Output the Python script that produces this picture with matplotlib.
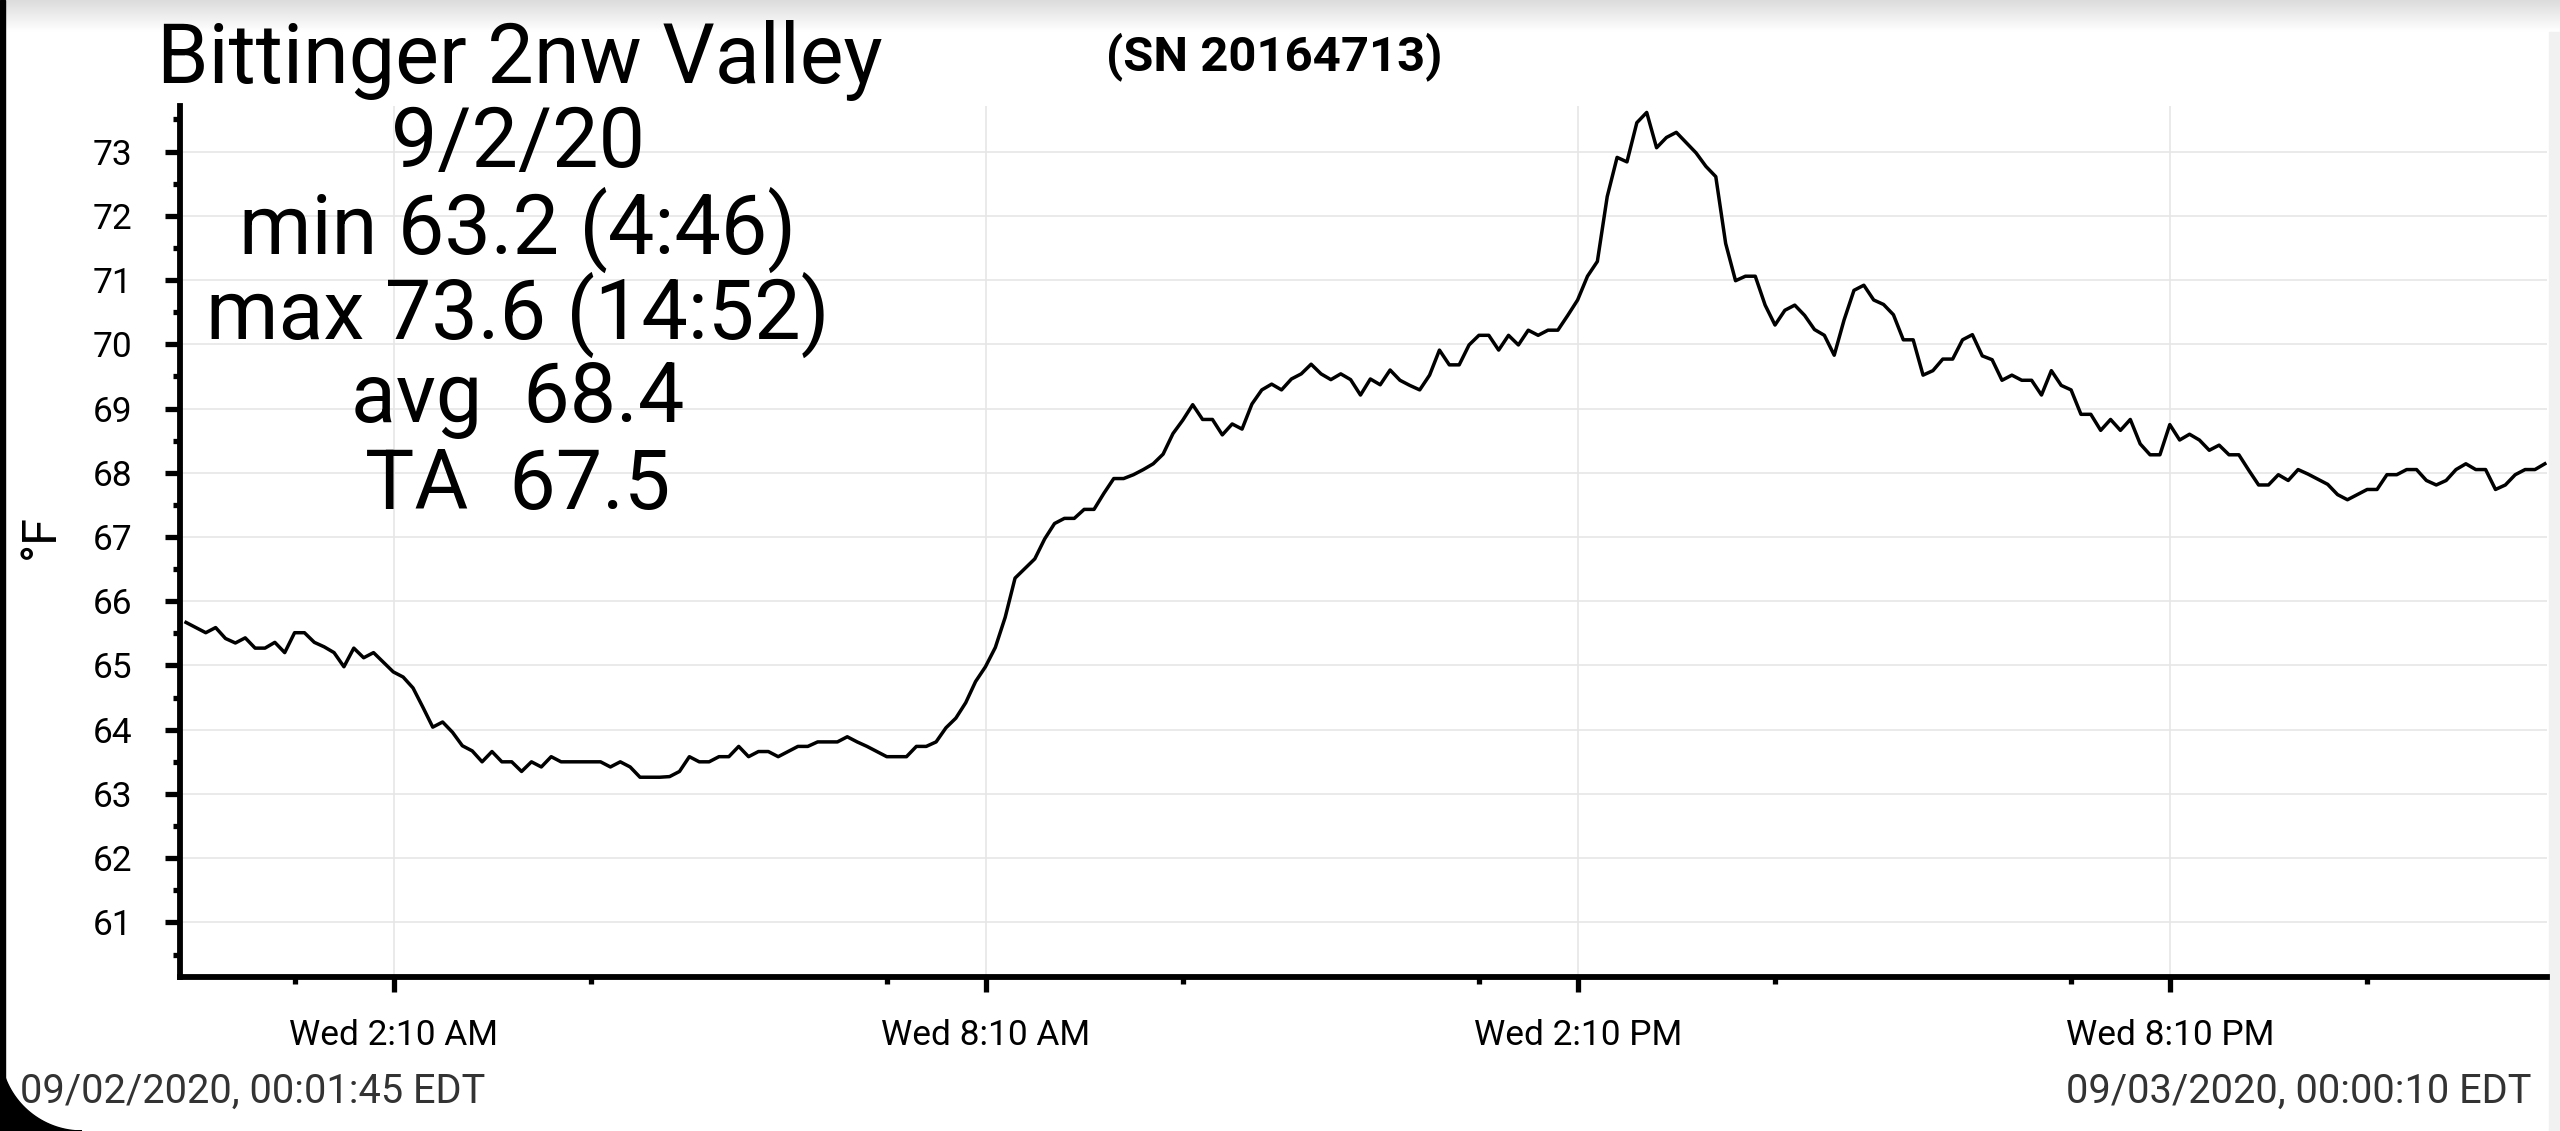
import numpy as np
import matplotlib
matplotlib.use('Agg')
import matplotlib.pyplot as plt
from matplotlib.patches import Rectangle, Polygon
from matplotlib.ticker import FixedLocator, NullFormatter

plt.rcParams['font.family'] = ['Roboto', 'DejaVu Sans']

# logger readings, one every 6 minutes through 9/2/20
temps = [
    65.67, 65.59, 65.51, 65.59, 65.42, 65.35, 65.43, 65.27, 65.27, 65.36,
    65.20, 65.51, 65.51, 65.36, 65.29, 65.20, 64.98, 65.27, 65.12, 65.20,
    65.05, 64.90, 64.82, 64.65, 64.35, 64.04, 64.12, 63.96, 63.75, 63.67,
    63.50, 63.66, 63.50, 63.50, 63.35, 63.50, 63.42, 63.58, 63.50, 63.50,
    63.50, 63.50, 63.50, 63.42, 63.50, 63.42, 63.26, 63.26, 63.26, 63.27,
    63.35, 63.58, 63.50, 63.50, 63.58, 63.58, 63.74, 63.58, 63.66, 63.66,
    63.58, 63.66, 63.74, 63.74, 63.81, 63.81, 63.81, 63.89, 63.81, 63.74,
    63.66, 63.58, 63.58, 63.58, 63.74, 63.74, 63.81, 64.03, 64.18, 64.42,
    64.75, 64.98, 65.28, 65.75, 66.36, 66.51, 66.66, 66.97, 67.21, 67.29,
    67.29, 67.43, 67.43, 67.68, 67.91, 67.91, 67.97, 68.05, 68.14, 68.29,
    68.61, 68.82, 69.06, 68.83, 68.83, 68.59, 68.76, 68.68, 69.07, 69.29,
    69.38, 69.29, 69.46, 69.54, 69.69, 69.54, 69.45, 69.54, 69.45, 69.21,
    69.46, 69.37, 69.60, 69.44, 69.36, 69.29, 69.52, 69.91, 69.68, 69.68,
    69.99, 70.14, 70.14, 69.91, 70.14, 69.99, 70.22, 70.14, 70.22, 70.22,
    70.45, 70.69, 71.06, 71.29, 72.30, 72.91, 72.84, 73.45, 73.61, 73.06,
    73.22, 73.30, 73.14, 72.98, 72.77, 72.61, 71.57, 70.99, 71.06, 71.06,
    70.61, 70.30, 70.53, 70.61, 70.45, 70.23, 70.14, 69.83, 70.38, 70.84,
    70.92, 70.69, 70.62, 70.46, 70.07, 70.07, 69.52, 69.59, 69.77, 69.77,
    70.07, 70.15, 69.82, 69.76, 69.44, 69.52, 69.44, 69.44, 69.21, 69.59,
    69.36, 69.29, 68.91, 68.91, 68.66, 68.83, 68.66, 68.83, 68.45, 68.28,
    68.28, 68.75, 68.51, 68.60, 68.51, 68.35, 68.43, 68.28, 68.28, 68.04,
    67.81, 67.81, 67.97, 67.88, 68.05, 67.98, 67.90, 67.82, 67.66, 67.58,
    67.66, 67.74, 67.74, 67.97, 67.97, 68.05, 68.05, 67.88, 67.81, 67.88,
    68.05, 68.14, 68.05, 68.05, 67.74, 67.81, 67.97, 68.05, 68.05, 68.14,
]
start_hour = 0.064
step_hours = 0.1
hours = [start_hour + i * step_hours for i in range(len(temps))]

major_hours = [2 + 10 / 60, 8 + 10 / 60, 14 + 10 / 60, 20 + 10 / 60]
major_labels = ['Wed 2:10 AM', 'Wed 8:10 AM', 'Wed 2:10 PM', 'Wed 8:10 PM']
minor_hours = [1 + 10 / 60 + 3 * i for i in range(8)]
y_major = list(range(61, 74))
y_minor = [v + 0.5 for v in range(60, 74)]

title = 'Bittinger 2nw Valley'
serial = '(SN 20164713)'
stats = ['9/2/20', 'min 63.2 (4:46)', 'max 73.6 (14:52)', 'avg  68.4', 'TA  67.5']
start_label = '09/02/2020, 00:01:45 EDT'
end_label = '09/03/2020, 00:00:10 EDT'

W, H = 2560, 1131
fig = plt.figure(figsize=(W / 100, H / 100), dpi=100)
fig.patch.set_facecolor('white')

# screenshot frame bits: grey shade on top, black edge left, grey strip right
top = fig.add_axes([0, 1 - 32 / H, 1, 32 / H], zorder=-5)
grad = np.linspace(0.86, 1.0, 64).reshape(-1, 1)
top.imshow(grad, cmap='gray', vmin=0, vmax=1, aspect='auto', extent=[0, 1, 0, 1])
top.axis('off')
fig.patches.append(Rectangle((0, 0), 5 / W, 1, transform=fig.transFigure, color='black', zorder=5))
fig.patches.append(Rectangle((1 - 11 / W, 0), 11 / W, 1 - 32 / H, transform=fig.transFigure,
                             color='#f1f1f1', zorder=-4))
r = 82
theta = np.linspace(np.pi, 1.5 * np.pi, 40)
pts = [(0, 0), (0, r)] + [(r + r * np.cos(t), r + r * np.sin(t)) for t in theta] + [(r, 0)]
fig.patches.append(Polygon([(x / W, y / H) for x, y in pts], closed=True, transform=fig.transFigure,
                           color='black', zorder=5))

ax = fig.add_axes([179.7 / W, 1 - 977 / H, (2547 - 179.7) / W, (977 - 106) / H])
ax.plot(hours, temps, color='black', lw=2.5, zorder=3)
ax.set_xlim(0.0, 23.986)
ax.set_ylim(60.15, 73.71)

ax.xaxis.set_major_locator(FixedLocator(major_hours))
ax.set_xticklabels(major_labels)
ax.xaxis.set_minor_locator(FixedLocator(minor_hours))
ax.yaxis.set_major_locator(FixedLocator(y_major))
ax.yaxis.set_minor_locator(FixedLocator(y_minor))
ax.yaxis.set_minor_formatter(NullFormatter())
ax.set_yticklabels([str(v) for v in y_major])

ax.grid(True, which='major', color='#e6e6e6', lw=1.2, zorder=0)
ax.set_axisbelow(True)
for s in ['top', 'right']:
    ax.spines[s].set_visible(False)
for s in ['left', 'bottom']:
    ax.spines[s].set_linewidth(4.2)
    ax.spines[s].set_color('black')
ax.tick_params(which='major', length=11, width=3.8, labelsize=25.4, color='black')
ax.tick_params(which='minor', length=5, width=3.8, color='black')
ax.tick_params(axis='y', which='major', pad=23)
ax.tick_params(axis='x', which='major', pad=19)

fig.text(41 / W, 1 - 536.7 / H, '°F', rotation=90, fontsize=35, ha='center', va='center')

fig.text(157 / W, 1 - 83 / H, title, fontsize=59.5, ha='left', va='baseline')
fig.text(1274.6 / W, 1 - 70.7 / H, serial, fontsize=35.3, fontweight='bold', ha='center', va='baseline')
baselines = [167, 253.4, 339, 422, 508.6]
for line, yb in zip(stats, baselines):
    fig.text(518 / W, 1 - yb / H, line, fontsize=59.5, ha='center', va='baseline', zorder=4)

fig.text(20 / W, 1 - 1103 / H, start_label, fontsize=28.6, color='#333333', ha='left', va='baseline')
fig.text(2531 / W, 1 - 1103 / H, end_label, fontsize=28.6, color='#333333', ha='right', va='baseline')

fig.savefig('out.png', dpi=100)
